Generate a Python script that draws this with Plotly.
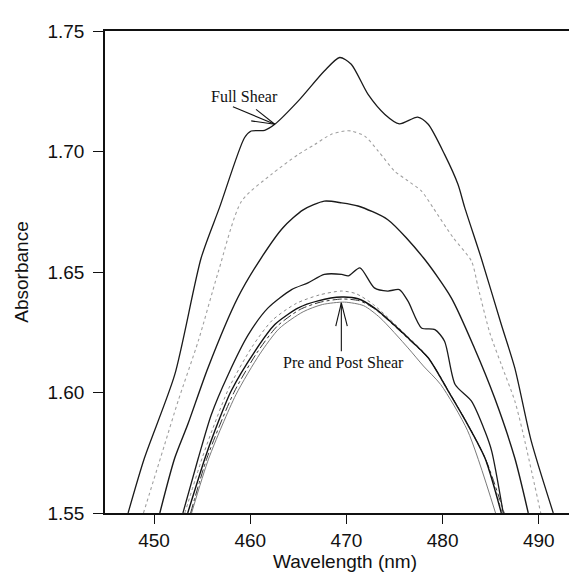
import plotly.graph_objects as go

# ---- data (wavelength nm, absorbance) ----
fullA_nm = [447.3, 449.0, 452.15, 454.9, 456.8, 459.4, 460.1, 461.5, 462.55, 465.0, 467.7, 469.3, 470.5, 472.25, 474.0, 475.5, 477.4, 478.5, 480.2, 481.6, 482.3, 484.0, 486.1, 487.5, 489.2, 491.5]
fullA_abs = [1.550, 1.5728, 1.6074, 1.6559, 1.6767, 1.7057, 1.7085, 1.7088, 1.7113, 1.7210, 1.7334, 1.7390, 1.7362, 1.7237, 1.7154, 1.7115, 1.7143, 1.7113, 1.6988, 1.6863, 1.6767, 1.6559, 1.6282, 1.6102, 1.5800, 1.550]

dotB_nm = [448.9, 451.1, 452.5, 454.6, 456.65, 459.1, 462.2, 465.0, 466.7, 468.4, 469.8, 470.5, 471.9, 473.3, 475.0, 476.4, 477.8, 479.0, 481.1, 483.0, 483.7, 484.9, 486.1, 487.5, 488.3, 490.2]
dotB_abs = [1.550, 1.5784, 1.5965, 1.6214, 1.6497, 1.6794, 1.6905, 1.6988, 1.7029, 1.7071, 1.7085, 1.7085, 1.7064, 1.7002, 1.6919, 1.6878, 1.6836, 1.6767, 1.6642, 1.6545, 1.6434, 1.6248, 1.6116, 1.5965, 1.5841, 1.550]

midC_nm = [450.6, 452.15, 453.5, 455.6, 458.7, 461.15, 463.4, 465.5, 467.7, 469.5, 471.2, 474.3, 478.0, 480.9, 483.3, 485.4, 487.5, 488.9]
midC_abs = [1.550, 1.5728, 1.5867, 1.6102, 1.6393, 1.6559, 1.6684, 1.6758, 1.6794, 1.6787, 1.6774, 1.6717, 1.6559, 1.6393, 1.6185, 1.5978, 1.5728, 1.550]

wavD_nm = [453.0, 454.6, 455.95, 457.7, 459.8, 461.85, 464.3, 466.0, 467.7, 469.5, 470.2, 471.4, 472.9, 474.3, 475.5, 476.4, 477.8, 479.2, 480.2, 481.3, 483.0, 484.4, 485.1, 486.3]
wavD_abs = [1.550, 1.5728, 1.5908, 1.6074, 1.6240, 1.6351, 1.6427, 1.6455, 1.6490, 1.6490, 1.6484, 1.6517, 1.6434, 1.6421, 1.6427, 1.6379, 1.6268, 1.6261, 1.6213, 1.6033, 1.5964, 1.5839, 1.5757, 1.550]

pre1_nm = [453.5, 455.3, 456.3, 458.0, 460.5, 462.55, 465.0, 467.05, 469.5, 471.2, 472.9, 476.4, 478.5, 480.6, 482.6, 484.4, 486.1]
pre1_abs = [1.550, 1.5728, 1.5839, 1.6005, 1.6172, 1.6282, 1.6351, 1.6380, 1.6396, 1.6389, 1.6351, 1.6227, 1.6144, 1.6005, 1.5867, 1.5728, 1.550]

pre2_nm = [453.2, 455.0, 456.1, 457.8, 460.2, 462.3, 464.8, 467.2, 469.5, 471.0, 472.8, 476.3, 478.4, 480.5, 482.6, 484.4, 486.2]
pre2_abs = [1.550, 1.5728, 1.5850, 1.6020, 1.6190, 1.6300, 1.6370, 1.6405, 1.6421, 1.6410, 1.6365, 1.6235, 1.6150, 1.6010, 1.5870, 1.5728, 1.550]

pre3_nm = [453.8, 455.5, 458.3, 460.7, 462.8, 465.2, 467.3, 469.6, 471.4, 473.0, 476.5, 478.6, 480.7, 482.7, 484.5, 486.4]
pre3_abs = [1.550, 1.5728, 1.6000, 1.6165, 1.6275, 1.6345, 1.6375, 1.6388, 1.6380, 1.6345, 1.6220, 1.6138, 1.6000, 1.5860, 1.5720, 1.550]

pre4_nm = [453.9, 455.7, 458.5, 461.0, 463.0, 465.5, 467.5, 469.8, 471.8, 473.5, 476.4, 478.0, 479.8, 482.6, 485.5]
pre4_abs = [1.550, 1.5728, 1.5990, 1.6160, 1.6265, 1.6335, 1.6365, 1.6375, 1.6360, 1.6310, 1.6185, 1.6110, 1.6033, 1.5841, 1.550]

x_ticks = [450, 460, 470, 480, 490]
y_ticks = [1.55, 1.60, 1.65, 1.70, 1.75]

fig = go.Figure()

def add(x, y, color, width, dash="solid"):
    fig.add_trace(go.Scatter(x=x, y=y, mode="lines",
                             line=dict(color=color, width=width, dash=dash, shape="spline", smoothing=0.7),
                             showlegend=False, hoverinfo="skip"))

add(fullA_nm, fullA_abs, "#1a1a1a", 1.3)
add(dotB_nm, dotB_abs, "#a0a0a0", 1.1, "dot")
add(midC_nm, midC_abs, "#1a1a1a", 1.4)
add(wavD_nm, wavD_abs, "#1a1a1a", 1.3)
add(pre4_nm, pre4_abs, "#7a7a7a", 1.0)
add(pre2_nm, pre2_abs, "#8a8a8a", 1.0, "dot")
add(pre3_nm, pre3_abs, "#333333", 1.0, "dashdot")
add(pre1_nm, pre1_abs, "#111111", 1.4)

# arrows (open V heads) as line shapes
arrows = [
    ((458.2, 1.7186), (462.55, 1.7113), (460.1, 1.7127), (460.6, 1.7175)),
    ((469.47, 1.6171), (469.47, 1.6372), (468.89, 1.6275), (470.09, 1.6275)),
]
for tail, tip, h1, h2 in arrows:
    for a in (tail, h1, h2):
        fig.add_shape(type="line", xref="x", yref="y", x0=a[0], y0=a[1], x1=tip[0], y1=tip[1],
                      line=dict(color="#111111", width=1.1))

fig.add_annotation(x=459.36, y=1.7228, text="Full Shear", showarrow=False,
                   font=dict(family="Liberation Serif", size=16, color="#111111"))
fig.add_annotation(x=469.65, y=1.6123, text="Pre and Post Shear", showarrow=False,
                   font=dict(family="Liberation Serif", size=16, color="#111111"))

fig.update_layout(
    width=577, height=575,
    margin=dict(l=97, r=0, t=23, b=70),
    paper_bgcolor="white", plot_bgcolor="white",
    font=dict(family="Liberation Sans", size=19, color="#111111"),
)
fig.update_xaxes(range=[444.9, 494.8], tickvals=x_ticks, ticktext=[str(v) for v in x_ticks],
                 ticks="outside", ticklen=9, tickwidth=1.3, tickcolor="#111111",
                 showline=True, linecolor="#111111", linewidth=1.5, mirror=True,
                 showgrid=False, zeroline=False, ticklabelstandoff=0,
                 title=dict(text="Wavelength (nm)", font=dict(size=19), standoff=3))
fig.update_yaxes(range=[1.55, 1.75], tickvals=y_ticks, ticktext=["%.2f" % v for v in y_ticks],
                 ticks="outside", ticklen=10, tickwidth=1.3, tickcolor="#111111",
                 showline=True, linecolor="#111111", linewidth=1.5, mirror=False,
                 showgrid=False, zeroline=False, ticklabelstandoff=5,
                 title=dict(text="Absorbance", font=dict(size=19), standoff=14))

fig.write_html("out.html")
